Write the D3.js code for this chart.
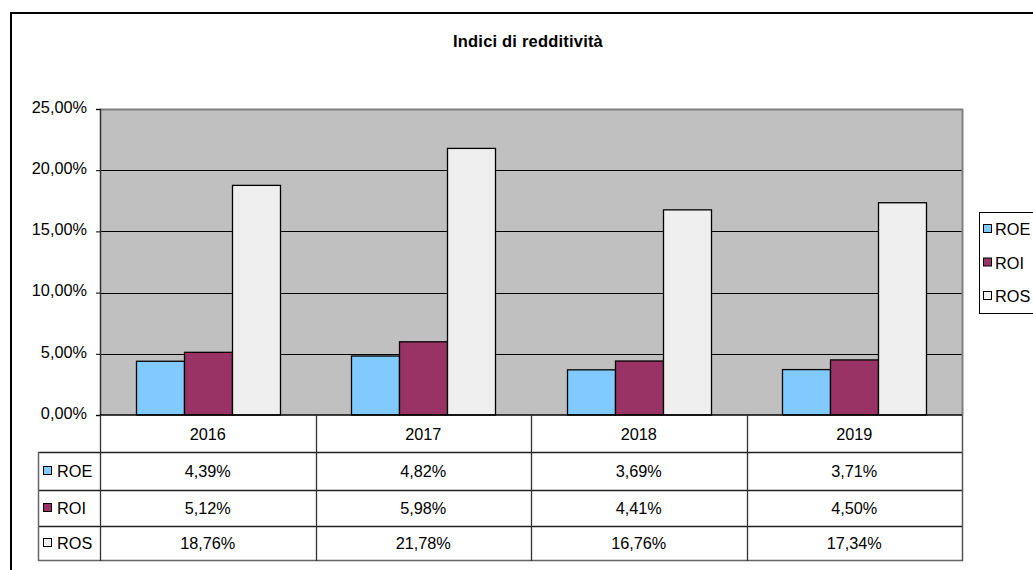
<!DOCTYPE html>
<html><head><meta charset="utf-8">
<script src="https://cdn.jsdelivr.net/npm/d3@7"></script>
<style>body{margin:0;background:#fff;} svg{display:block;font-family:"Liberation Sans",Arial,sans-serif;}</style>
</head><body>
<script>
const title = "Indici di redditività";
const categories = ["2016","2017","2018","2019"];
const seriesNames = ["ROE","ROI","ROS"];
const roe = [4.39, 4.82, 3.69, 3.71];
const roi = [5.12, 5.98, 4.41, 4.50];
const ros = [18.76, 21.78, 16.76, 17.34];
const yTicks = [0,5,10,15,20,25];
const colors = ["#80CAFF","#993366","#EFEFEF"];
const seriesValues = [roe, roi, ros];

const W=1033,H=570;
const svg=d3.select("body").append("svg").attr("width",W).attr("height",H);
const fmt = v => v.toFixed(2).replace(".",",")+"%";
const FS=16.3;

// outer frame
svg.append("rect").attr("x",11).attr("y",13).attr("width",1040).attr("height",570)
  .attr("fill","#fff").attr("stroke","#000").attr("stroke-width",2);

svg.append("text").attr("x",528).attr("y",47).attr("text-anchor","middle")
  .attr("font-size",16.5).attr("font-weight","bold").attr("letter-spacing",0.2).text(title);

const L=100,R=962,T=109,B=415;
const x=d3.scaleBand().domain(categories).range([L,R]).padding(0);
const x1=d3.scaleBand().domain(seriesNames).range([0,x.bandwidth()]).paddingInner(0).paddingOuter(0.75);
const y=d3.scaleLinear().domain([0,25]).range([B,T]);

svg.append("rect").attr("x",L).attr("y",T).attr("width",R-L).attr("height",B-T).attr("fill","#C0C0C0");
// gridlines
svg.append("g").selectAll("line").data(yTicks.filter(t=>t>0&&t<25)).join("line")
  .attr("x1",L).attr("x2",R).attr("y1",d=>Math.round(y(d))+0.5).attr("y2",d=>Math.round(y(d))+0.5)
  .attr("stroke","#000").attr("stroke-width",1);
svg.append("line").attr("x1",L).attr("x2",R+1).attr("y1",T+0.5).attr("y2",T+0.5).attr("stroke","#808080").attr("stroke-width",2);
svg.append("line").attr("x1",R+0.5).attr("x2",R+0.5).attr("y1",T).attr("y2",B).attr("stroke","#808080").attr("stroke-width",2);

// bars
const g=svg.append("g");
seriesNames.forEach((s,si)=>{
  g.selectAll(null).data(categories).join("rect")
    .attr("x",(c)=>Math.round(x(c)+x1(s))+0.5)
    .attr("y",(c,i)=>y(seriesValues[si][i]))
    .attr("width",Math.round(x1.bandwidth()))
    .attr("height",(c,i)=>B-y(seriesValues[si][i]))
    .attr("fill",colors[si]).attr("stroke","#000").attr("stroke-width",1.3);
});

// y axis
const ya=svg.append("g").attr("transform",`translate(${L},0)`)
  .call(d3.axisLeft(y).tickValues(yTicks).tickSize(4).tickPadding(9).tickFormat(fmt));
ya.select(".domain").attr("stroke","#333").attr("stroke-width",1.5);
ya.selectAll(".tick line").attr("stroke","#000");
ya.selectAll("text").attr("font-size",FS).attr("fill","#000").attr("font-family","Liberation Sans, Arial, sans-serif").attr("dy","0.2em");

// data table
const rowY=[415,452,490,526,560];
const TL=38;
const tg=svg.append("g");
tg.append("line").attr("x1",L).attr("x2",R).attr("y1",B).attr("y2",B).attr("stroke","#000").attr("stroke-width",1.5);
[452,490,526].forEach(yy=>tg.append("line").attr("x1",TL).attr("x2",R).attr("y1",yy+0.5).attr("y2",yy+0.5).attr("stroke","#222").attr("stroke-width",1.3));
tg.append("line").attr("x1",TL).attr("x2",R+1).attr("y1",560.5).attr("y2",560.5).attr("stroke","#666").attr("stroke-width",1.5);
tg.append("line").attr("x1",TL+0.5).attr("x2",TL+0.5).attr("y1",452).attr("y2",561).attr("stroke","#666").attr("stroke-width",1.5);
tg.append("line").attr("x1",R+0.5).attr("x2",R+0.5).attr("y1",B).attr("y2",561).attr("stroke","#555").attr("stroke-width",1.5);
tg.append("line").attr("x1",L+0.5).attr("x2",L+0.5).attr("y1",B).attr("y2",561).attr("stroke","#333").attr("stroke-width",1.3);
categories.slice(1).forEach(c=>tg.append("line").attr("x1",Math.round(x(c))+0.5).attr("x2",Math.round(x(c))+0.5)
  .attr("y1",B).attr("y2",561).attr("stroke","#333").attr("stroke-width",1.3));
tg.selectAll(null).data(categories).join("text").attr("x",c=>x(c)+x.bandwidth()/2).attr("y",(rowY[0]+rowY[1])/2+6)
  .attr("text-anchor","middle").attr("font-size",FS).text(c=>c);
seriesNames.forEach((s,si)=>{
  const cy=(rowY[si+1]+rowY[si+2])/2;
  tg.append("rect").attr("x",43.5).attr("y",cy-4.5).attr("width",8).attr("height",8).attr("fill",colors[si]).attr("stroke","#000").attr("stroke-width",1);
  tg.append("text").attr("x",57).attr("y",cy+6).attr("font-size",FS).text(s);
  tg.selectAll(null).data(categories).join("text").attr("x",c=>x(c)+x.bandwidth()/2).attr("y",cy+6)
    .attr("text-anchor","middle").attr("font-size",FS).text((c,i)=>fmt(seriesValues[si][i]));
});

// legend
const lg=svg.append("g");
lg.append("rect").attr("x",979.5).attr("y",212.5).attr("width",70).attr("height",101).attr("fill","#fff").attr("stroke","#000").attr("stroke-width",1);
seriesNames.forEach((s,si)=>{
  const cy=229+si*33.5;
  lg.append("rect").attr("x",983.5).attr("y",cy-4.5).attr("width",8).attr("height",8).attr("fill",colors[si]).attr("stroke","#000");
  lg.append("text").attr("x",995).attr("y",cy+6).attr("font-size",FS).text(s);
});
</script>
</body></html>
